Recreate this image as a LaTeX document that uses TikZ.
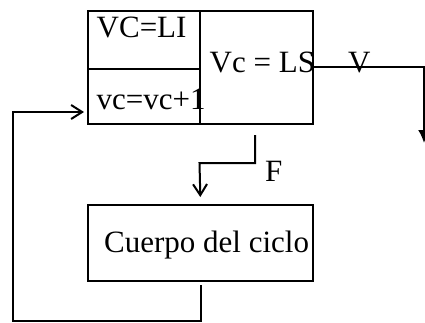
\documentclass[tikz,border=0pt]{standalone}
\usepackage{fontspec}
\setmainfont{Liberation Serif}
\usetikzlibrary{arrows.meta,positioning,calc}

\begin{document}
\begin{tikzpicture}[x=1pt,y=-1pt,
  every node/.style={inner sep=0pt,font=\fontsize{31}{36}\selectfont},
  celda/.style={draw,line width=2pt,anchor=north west},
  texto/.style={anchor=base west},
  flecha/.style={line width=2pt,-{Straight Barb[length=11pt,width=14pt,line width=2pt]}},
  flechallena/.style={line width=2pt,-{Latex[length=13pt,width=12pt]}}]
  \useasboundingbox (0,0) rectangle (425,322);
  \node[celda,minimum width=112pt,minimum height=58pt] (li) at (87,10) {};
  \node[celda,minimum width=112pt,minimum height=55pt] (incr) at (87,68) {};
  \node[celda,minimum width=113pt,minimum height=113pt] (ls) at (199,10) {};
  \node[celda,minimum width=225pt,minimum height=76pt] (cuerpo) at (87,204) {};
  \node[texto] (tli) at (96.5,37) {VC=LI};
  \node[texto] (tincr) at (96.5,109) {vc=vc+1};
  \node[texto] (tls) at (209.5,72.5) {Vc = LS};
  \node[texto] (tcuerpo) at (104,252) {Cuerpo del ciclo};
  \node[texto] (v) at (348,72) {V};
  \node[texto] (f) at (265,181) {F};
  \coordinate (vcodo) at (424,67);
  \coordinate (vfin) at (424,143);
  \coordinate (f0) at (255,135);
  \coordinate (fcodo) at (199.5,163);
  \coordinate (lazoA) at (13,320.5);
  \coordinate (lazoB) at (13,112);
  \draw[flechallena] (ls.east|-vcodo) -- (vcodo) -- (vfin);
  \draw[flecha,shorten >=7pt] (f0) |- (fcodo) -- (cuerpo.north);
  \draw[flecha,shorten <=3pt,shorten >=3pt] (cuerpo.south) |- (lazoA) -- (lazoB) -- (lazoB-|incr.west);
\end{tikzpicture}
\end{document}
